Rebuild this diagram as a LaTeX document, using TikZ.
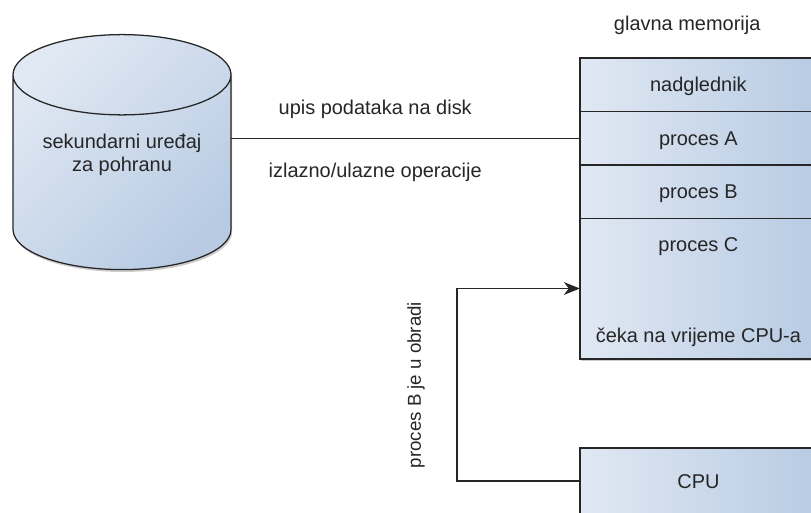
\documentclass[tikz,border=0pt]{standalone}
\usepackage{fontspec}
\setmainfont{Liberation Sans}
\usetikzlibrary{shapes.geometric, arrows.meta, positioning, shadows}

\definecolor{boxlight}{HTML}{E0E8F3}
\definecolor{boxdark}{HTML}{B8CBE3}
\definecolor{inkgrey}{HTML}{262626}

\begin{document}
\begin{tikzpicture}[
    thick,
    softshadow/.style={drop shadow={shadow xshift=0.03cm, shadow yshift=-0.06cm, opacity=0.2, fill=black}},
    membox/.style={rectangle, draw=inkgrey, line width=0.9pt, minimum width=5.925cm, inner sep=0pt, outer sep=0pt, left color=boxlight, right color=boxdark, font=\fontsize{14.2}{17}\selectfont, text=inkgrey, text height=10pt, text depth=0pt, align=center},
    disk/.style={cylinder, shape border rotate=90, shape aspect=0.506, draw=inkgrey, line width=0.9pt, minimum width=5.45cm, minimum height=5.875cm, inner sep=0pt, outer sep=0pt, top color=boxlight, bottom color=boxdark, shading angle=45, font=\fontsize{14.2}{17}\selectfont, text=inkgrey, text depth=28pt, align=center},
    plain_label/.style={font=\fontsize{14.2}{17}\selectfont, text=inkgrey, inner sep=1pt, align=center},
    link/.style={draw=inkgrey, line width=0.9pt}
]

    % Fix the page, the memory and CPU boxes run over its edge
    \clip (0, 0) rectangle (20.275, 12.825);

    % Define the disk and the memory column
    \node[disk, softshadow] (disk) at (3.05, 8.5125) {sekundarni uređaj\\za pohranu};
    \node[membox, minimum height=3.525cm, softshadow] (procc) at (17.46, 5.6125) {};
    \node[membox, minimum height=1.333cm] (nadgl) at (17.46, 10.7075) {nadglednik};
    \node[membox, minimum height=1.333cm] (proca) at (17.46, 9.365) {proces A};
    \node[membox, minimum height=1.333cm] (procb) at (17.46, 8.035) {proces B};
    \node[membox, minimum height=1.65cm] (cpu) at (17.46, 0.8) {CPU};

    % Texts over the boxes and the connectors
    \node[plain_label] (memtitle) at (17.18, 12.2) {glavna memorija};
    \node[plain_label] (procclabel) at (17.46, 6.65) {proces C};
    \node[plain_label] (waitlabel) at (17.46, 4.38) {čeka na vrijeme CPU-a};
    \node[plain_label] (writelabel) at (9.38, 10.1) {upis podataka na disk};
    \node[plain_label] (iolabel) at (9.38, 8.52) {izlazno/ulazne operacije};
    \node[plain_label, rotate=90, font=\fontsize{13.3}{16}\selectfont] (runlabel) at (10.4, 3.2) {proces B je u obradi};

    % Draw connectors
    \coordinate (bend) at (11.425, 3);
    \draw[link] (disk.east |- proca.west) -- (proca.west);
    \draw[link, -{Stealth[length=4mm, width=3.2mm, inset=1.2mm]}] (cpu.west) -| (bend) |- (procc.west);

\end{tikzpicture}
\end{document}
